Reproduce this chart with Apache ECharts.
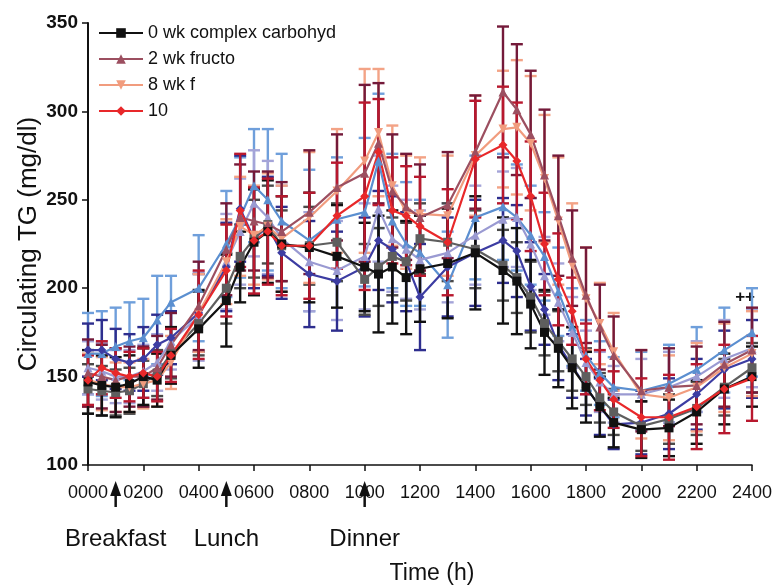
<!DOCTYPE html>
<html>
<head>
<meta charset="utf-8">
<script src="https://cdn.jsdelivr.net/npm/echarts@6/dist/echarts.min.js"></script>
<style>
  html, body { margin: 0; padding: 0; background: #fff; }
  #chart { width: 772px; height: 585px; }
</style>
</head>
<body>
<div id="chart"></div>
<script>
// sampling times (h)
var hours = [0, 0.5, 1, 1.5, 2, 2.5, 3, 4, 5, 5.5, 6, 6.5, 7, 8, 9, 10, 10.5, 11, 11.5, 12,
  13, 14, 15, 15.5, 16, 16.5, 17, 17.5, 18, 18.5, 19, 20, 21, 22, 23, 24];

// mean TG (mg/dl) per group
var black0wk = [147, 145, 144, 146, 150, 148, 162, 177, 193, 212, 226, 232, 225, 223, 218, 212, 208, 212, 206, 211,
  214, 220, 210, 204, 191, 175, 166, 155, 144, 133, 124, 120, 121, 130, 143, 150];
var gray0wk = [143, 142, 141, 142, 146, 152, 163, 180, 200, 218, 228, 236, 224, 224, 226, 205, 212, 218, 215, 228,
  226, 222, 213, 206, 195, 180, 170, 160, 150, 138, 130, 122, 126, 132, 144, 155];
var fruc2wk = [152, 150, 148, 150, 150, 155, 168, 190, 222, 240, 238, 236, 232, 243, 257, 265, 282, 255, 246, 240,
  247, 277, 311, 301, 287, 264, 241, 217, 196, 178, 162, 142, 144, 145, 157, 165];
var fruc8wk = [148, 146, 144, 144, 146, 148, 158, 186, 215, 235, 230, 235, 228, 240, 255, 272, 288, 258, 243, 242,
  241, 275, 290, 291, 282, 262, 238, 213, 194, 180, 164, 140, 138, 144, 155, 163];
var fruc10wk = [148, 155, 152, 150, 152, 150, 162, 185, 210, 244, 227, 232, 224, 224, 241, 252, 277, 244, 241, 235,
  226, 273, 281, 272, 252, 225, 205, 187, 160, 148, 137, 127, 127, 133, 143, 149];
var navyGrp = [165, 165, 160, 158, 160, 168, 172, 186, 212, 245, 228, 235, 220, 208, 204, 212, 227, 222, 215, 195,
  212, 220, 227, 221, 201, 188, 168, 156, 144, 133, 123, 124, 129, 140, 154, 160];
var blueGrp = [163, 163, 167, 170, 172, 182, 192, 200, 225, 240, 258, 250, 238, 227, 239, 243, 272, 238, 225, 220,
  202, 240, 246, 240, 230, 218, 198, 178, 162, 152, 144, 142, 146, 154, 165, 175];
var lavGrp = [155, 153, 150, 150, 153, 158, 170, 184, 215, 232, 248, 240, 228, 215, 210, 218, 245, 228, 222, 216,
  220, 230, 239, 240, 225, 207, 192, 175, 158, 147, 140, 140, 144, 150, 160, 166];

// SEM per group
var black0wkErr = [18, 17, 17, 16, 16, 15, 16, 22, 26, 20, 30, 29, 27, 31, 29, 25, 33, 32, 32, 30,
  31, 32, 30, 30, 25, 24, 22, 23, 20, 17, 14, 16, 16, 18, 20, 17];
var gray0wkErr = [14, 14, 13, 13, 13, 13, 14, 18, 20, 18, 22, 22, 20, 22, 22, 20, 22, 22, 22, 20,
  22, 22, 20, 20, 20, 18, 17, 18, 16, 14, 13, 14, 14, 15, 16, 14];
var fruc2wkErr = [19, 18, 18, 17, 17, 18, 18, 25, 26, 30, 28, 30, 28, 35, 30, 50, 34, 32, 30, 30,
  30, 32, 37, 37, 36, 37, 34, 27, 27, 24, 22, 23, 22, 22, 24, 24];
var fruc8wkErr = [15, 15, 14, 14, 14, 15, 15, 22, 24, 28, 28, 30, 30, 37, 35, 52, 36, 34, 32, 32,
  34, 34, 33, 38, 38, 36, 36, 35, 29, 23, 22, 25, 24, 25, 25, 24];
var fruc10wkErr = [14, 15, 14, 14, 14, 14, 15, 25, 26, 32, 30, 30, 28, 30, 30, 53, 30, 30, 28, 28,
  30, 33, 33, 33, 31, 29, 26, 19, 20, 17, 16, 22, 24, 24, 25, 24];
var navyGrpErr = [15, 17, 17, 16, 18, 17, 15, 22, 25, 30, 28, 28, 26, 30, 28, 28, 28, 30, 28, 30,
  28, 30, 24, 26, 25, 20, 20, 18, 16, 16, 14, 18, 20, 20, 22, 22];
var blueGrpErr = [23, 24, 22, 22, 22, 25, 15, 30, 30, 34, 32, 40, 38, 40, 35, 42, 38, 38, 35, 30,
  30, 35, 30, 30, 28, 25, 25, 22, 20, 18, 17, 22, 22, 24, 24, 25];
var lavGrpErr = [15, 16, 15, 15, 15, 16, 16, 25, 27, 30, 30, 32, 30, 28, 28, 30, 30, 30, 28, 28,
  28, 28, 27, 28, 26, 22, 22, 20, 18, 17, 16, 20, 20, 20, 22, 22];

// legend labels as they show in the figure
var legendNames = ["0 wk complex carbohyd", "2 wk fructo", "8 wk f", "10"];

var meals = [
  { label: "Breakfast", hour: 1 },
  { label: "Lunch", hour: 5 },
  { label: "Dinner", hour: 10 }
];
var sigMarks = [{ text: "++", hour: 23.75, value: 195 }];

var groups = [
  { name: "blue", vals: blueGrp, err: blueGrpErr, color: "#5b8fd0", errColor: "#6f9fdb", symbol: "triangle", rot: 0 },
  { name: "lavender", vals: lavGrp, err: lavGrpErr, color: "#9a9ad2", errColor: "#a4a4d8", symbol: "triangle", rot: 0 },
  { name: "navy", vals: navyGrp, err: navyGrpErr, color: "#3c3ca2", errColor: "#2e2e8e", symbol: "diamond", rot: 0 },
  { name: "gray", vals: gray0wk, err: gray0wkErr, color: "#5e5e5e", errColor: "#4a4a4a", symbol: "rect", rot: 0 },
  { name: legendNames[2], vals: fruc8wk, err: fruc8wkErr, color: "#f19c7e", errColor: "#f3a386", symbol: "triangle", rot: 180 },
  { name: legendNames[1], vals: fruc2wk, err: fruc2wkErr, color: "#9c4f60", errColor: "#741a3a", symbol: "triangle", rot: 0 },
  { name: legendNames[0], vals: black0wk, err: black0wkErr, color: "#111111", errColor: "#111111", symbol: "rect", rot: 0 },
  { name: legendNames[3], vals: fruc10wk, err: fruc10wkErr, color: "#e8282a", errColor: "#b8182e", symbol: "diamond", rot: 0 }
];

function pad(v) {
  var s = String(Math.round(v * 100));
  while (s.length < 4) s = "0" + s;
  return s;
}

var series = [];
groups.forEach(function (g, gi) {
  // error bars
  series.push({
    type: "custom",
    name: "err" + gi,
    data: hours.map(function (h, i) { return [h, g.vals[i] - g.err[i], g.vals[i] + g.err[i]]; }),
    encode: { x: 0, y: [1, 2] },
    silent: true,
    renderItem: function (params, api) {
      var x = api.value(0);
      var lo = api.coord([x, api.value(1)]);
      var hi = api.coord([x, api.value(2)]);
      var w = 6;
      var st = { stroke: g.errColor, lineWidth: 2.4 };
      return {
        type: "group",
        children: [
          { type: "line", shape: { x1: lo[0], y1: lo[1], x2: hi[0], y2: hi[1] }, style: st },
          { type: "line", shape: { x1: hi[0] - w, y1: hi[1], x2: hi[0] + w, y2: hi[1] }, style: st },
          { type: "line", shape: { x1: lo[0] - w, y1: lo[1], x2: lo[0] + w, y2: lo[1] }, style: st }
        ]
      };
    }
  });
  series.push({
    type: "line",
    name: g.name,
    data: hours.map(function (h, i) { return [h, g.vals[i]]; }),
    symbol: g.symbol,
    symbolRotate: g.rot,
    symbolSize: 9,
    color: g.color,
    lineStyle: { width: 2.2, color: g.color },
    itemStyle: { color: g.color },
    animation: false
  });
});

var chart = echarts.init(document.getElementById("chart"));
chart.setOption({
  animation: false,
  grid: { left: 88, right: 20, top: 23, bottom: 120, outerBoundsMode: "none" },
  legend: {
    data: legendNames,
    orient: "vertical",
    left: 98,
    top: 24,
    padding: 0,
    itemGap: 8,
    itemWidth: 44,
    itemHeight: 12,
    textStyle: { fontFamily: "Liberation Sans", fontSize: 18, color: "#111" }
  },
  xAxis: {
    type: "value",
    min: 0,
    max: 24,
    interval: 2,
    name: "Time (h)",
    nameLocation: "middle",
    nameGap: 97,
    nameTextStyle: { fontFamily: "Liberation Sans", fontSize: 23, color: "#111", padding: [0, 0, 0, 24] },
    axisLine: { lineStyle: { color: "#111", width: 1.5 } },
    axisTick: { show: true, length: 6, lineStyle: { color: "#111", width: 1.5 } },
    axisLabel: {
      fontFamily: "Liberation Sans", fontSize: 18, color: "#111", margin: 19,
      formatter: function (v) { return pad(v); }
    },
    splitLine: { show: false }
  },
  yAxis: {
    type: "value",
    min: 100,
    max: 350,
    interval: 50,
    name: "Circulating TG (mg/dl)",
    nameLocation: "middle",
    nameGap: 46,
    nameMoveOverlap: false,
    nameTextStyle: { fontFamily: "Liberation Sans", fontSize: 26, color: "#111" },
    axisLine: { show: true, lineStyle: { color: "#111", width: 2 } },
    axisTick: { show: true, length: 6, lineStyle: { color: "#111", width: 1.5 } },
    axisLabel: { fontFamily: "Liberation Sans", fontSize: 19, fontWeight: "bold", color: "#111", margin: 10 },
    splitLine: { show: false }
  },
  series: series
});

// meal arrows and significance marks, placed through the axis scales
var graphics = [];
meals.forEach(function (m) {
  var x = chart.convertToPixel({ xAxisIndex: 0 }, m.hour);
  graphics.push({
    type: "polygon",
    shape: { points: [[x, 481], [x - 5.5, 496], [x + 5.5, 496]] },
    style: { fill: "#111" }
  });
  graphics.push({
    type: "line",
    shape: { x1: x, y1: 494, x2: x, y2: 507 },
    style: { stroke: "#111", lineWidth: 2.5 }
  });
  graphics.push({
    type: "text",
    x: x,
    y: 539,
    style: {
      text: m.label, fontFamily: "Liberation Sans", fontSize: 24, fill: "#111",
      align: "center", verticalAlign: "middle"
    }
  });
});
sigMarks.forEach(function (s) {
  var p = chart.convertToPixel({ gridIndex: 0 }, [s.hour, s.value]);
  graphics.push({
    type: "text",
    x: p[0],
    y: p[1],
    style: {
      text: s.text, fontFamily: "Liberation Sans", fontSize: 17, fontWeight: "bold", fill: "#111",
      align: "center", verticalAlign: "middle"
    }
  });
});
chart.setOption({ graphic: graphics });
</script>
</body>
</html>
